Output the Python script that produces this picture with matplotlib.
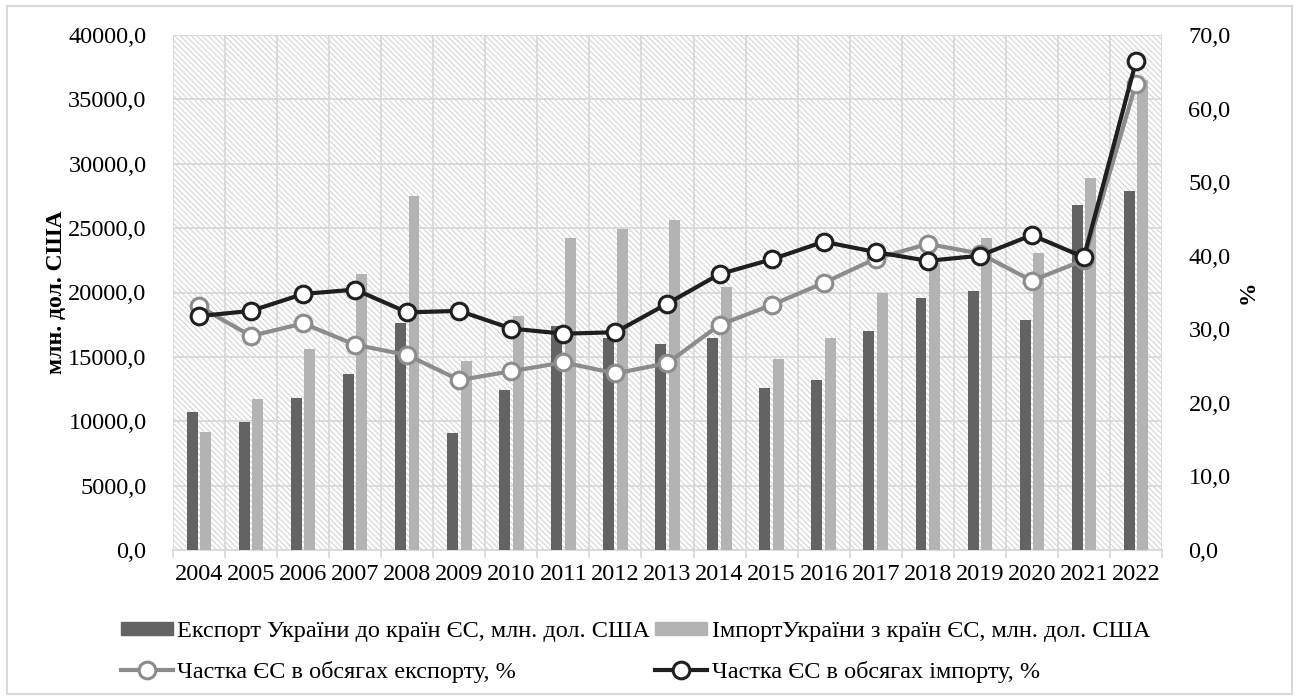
import numpy as np
import matplotlib
matplotlib.use('Agg')
import matplotlib.pyplot as plt
from matplotlib.patches import Rectangle, Patch
from matplotlib.ticker import FixedLocator, FuncFormatter

# дані
years = ['2004', '2005', '2006', '2007', '2008', '2009', '2010', '2011', '2012', '2013',
         '2014', '2015', '2016', '2017', '2018', '2019', '2020', '2021', '2022']
export_usd = [10700, 9950, 11800, 13700, 17600, 9100, 12400, 17400, 16500, 16000,
              16500, 12600, 13200, 17000, 19600, 20100, 17900, 26800, 27900]
import_usd = [9200, 11700, 15600, 21400, 27500, 14700, 18200, 24200, 24900, 25600,
              20400, 14800, 16500, 20000, 22300, 24200, 23100, 28900, 36500]
export_share = [33.1, 29.1, 30.8, 27.9, 26.5, 23.1, 24.3, 25.5, 24.0, 25.4,
                30.6, 33.3, 36.3, 39.6, 41.6, 40.3, 36.6, 39.4, 63.4]
import_share = [31.8, 32.5, 34.8, 35.4, 32.3, 32.5, 30.1, 29.4, 29.6, 33.5,
                37.5, 39.5, 41.9, 40.5, 39.3, 40.0, 42.8, 39.8, 66.4]

plt.rcParams['font.family'] = ['Liberation Serif', 'DejaVu Serif']
plt.rcParams['hatch.linewidth'] = 0.7

dark = '#636363'
light = '#b3b3b3'
grid = '#d9d9d9'
fs = 17.5

fig = plt.figure(figsize=(12.98, 7.0), dpi=100)
ax = fig.add_axes([173 / 1298, 1 - 550 / 700, (1162 - 173) / 1298, (550 - 35) / 700])
ax2 = ax.twinx()

# рамка навколо рисунка
fig.patches.append(Rectangle((7 / 1298, 1 - 694 / 700), 1285 / 1298, 688 / 700,
                             transform=fig.transFigure, fill=False,
                             edgecolor=grid, linewidth=1.5))

# заштрихований фон
ax.patch.set_visible(False)
ax.add_patch(Rectangle((0, 0), 1, 1, transform=ax.transAxes, facecolor='white',
                       edgecolor='#d0d0d0', linewidth=0, hatch='\\\\\\\\\\\\', zorder=0))

x = np.arange(len(years))
w = 0.21
ax.bar(x - 0.13, export_usd, w, color=dark, zorder=3)
ax.bar(x + 0.13, import_usd, w, color=light, zorder=3)

ax.set_xlim(-0.5, len(years) - 0.5)
ax.set_ylim(0, 40000)
ax.set_yticks(np.arange(0, 40001, 5000))
fmt = FuncFormatter(lambda v, p: f'{v:.1f}'.replace('.', ','))
ax.yaxis.set_major_formatter(fmt)
ax.set_xticks(x)
ax.set_xticklabels(years)
ax.xaxis.set_minor_locator(FixedLocator(np.arange(-0.5, len(years), 1.0)))
ax.grid(axis='y', color=grid, linewidth=1.3, zorder=1)
ax.grid(axis='x', which='minor', color=grid, linewidth=1.3, zorder=1)
ax.set_axisbelow(True)
for s in ['left', 'right', 'top']:
    ax.spines[s].set_visible(False)
ax.spines['bottom'].set_color(grid)
ax.spines['bottom'].set_linewidth(1.3)
ax.tick_params(axis='x', which='major', length=0, pad=10, labelsize=fs)
ax.tick_params(axis='x', which='minor', length=6, color=grid, width=1.3)
ax.tick_params(axis='y', length=0, pad=19, labelsize=fs)
ax.set_ylabel('млн. дол. США', fontsize=17, fontweight='bold')
ax.yaxis.set_label_coords(-106 / 989, 0.5)

ax2.set_ylim(0, 70)
ax2.set_yticks(np.arange(0, 71, 10))
ax2.yaxis.set_major_formatter(fmt)
ax2.tick_params(axis='y', length=0, pad=19, labelsize=fs)
for s in ax2.spines.values():
    s.set_visible(False)
ax2.set_ylabel('%', fontsize=17, fontweight='bold')
ax2.yaxis.set_label_coords(1065 / 989, 0.5)

l1, = ax2.plot(x, export_share, color='#8c8c8c', linewidth=3, marker='o', markersize=12,
               markerfacecolor='white', markeredgecolor='#8c8c8c', markeredgewidth=2.2, zorder=4)
l2, = ax2.plot(x, import_share, color='#1f1f1f', linewidth=3, marker='o', markersize=12,
               markerfacecolor='white', markeredgecolor='#1f1f1f', markeredgewidth=2.2, zorder=5)

handles = [Patch(color=dark), l1, Patch(color=light), l2]
labels = ['Експорт України до країн ЄС, млн. дол. США',
          'Частка ЄС в обсягах експорту, %',
          'ІмпортУкраїни з країн ЄС, млн. дол. США',
          'Частка ЄС в обсягах імпорту, %']
fig.legend(handles, labels, ncol=2, loc='upper left', bbox_to_anchor=(121 / 1298, 1 - 621 / 700),
           frameon=False, fontsize=fs, handlelength=2.15, handleheight=0.45, handletextpad=0.17,
           columnspacing=0.2, labelspacing=0.78, numpoints=1, borderaxespad=0, borderpad=0)

fig.savefig('out.png', dpi=100)
